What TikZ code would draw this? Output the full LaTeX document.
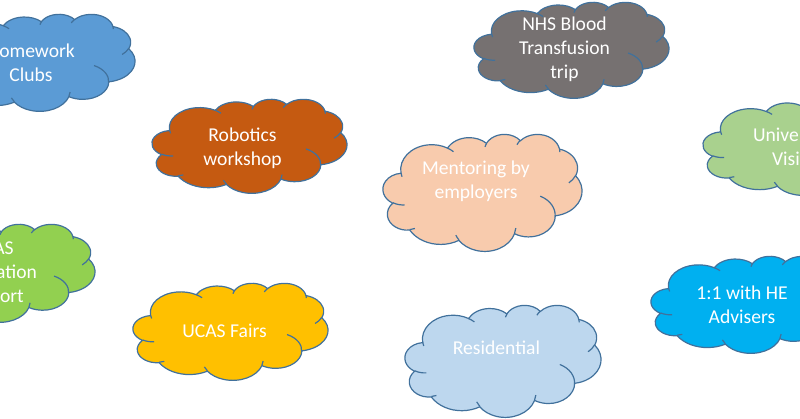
\documentclass[tikz,border=0pt]{standalone}
\usepackage{fontspec}
\setmainfont{Carlito}
\definecolor{cloudline}{HTML}{41719C}
\definecolor{cHome}{HTML}{5B9BD5}
\definecolor{cRobot}{HTML}{C55A11}
\definecolor{cNHS}{HTML}{767171}
\definecolor{cMentor}{HTML}{F8CBAD}
\definecolor{cUniv}{HTML}{A9D18E}
\definecolor{cUcasApp}{HTML}{92D050}
\definecolor{cFairs}{HTML}{FFC000}
\definecolor{cResid}{HTML}{BDD7EE}
\definecolor{cAdvise}{HTML}{00B0F0}
% one arc of the Office cloud: radii (1/100 of 43200 space), start, sweep (visual degrees)
\newcommand\cloudarc[4]{%
  \pgfmathsetmacro\cA{#3}%
  \pgfmathsetmacro\cB{#3+#4}%
  \pgfmathsetmacro\tA{atan2(#1*sin(\cA),#2*cos(\cA))}%
  \pgfmathsetmacro\dA{atan2(sin(\tA-\cA),cos(\tA-\cA))}%
  \pgfmathsetmacro\tB{atan2(#1*sin(\cB),#2*cos(\cB))}%
  \pgfmathsetmacro\dB{atan2(sin(\tB-\cB),cos(\tB-\cB))}%
  \pgfmathsetmacro\sS{\cA+\dA}%
  \pgfmathsetmacro\sE{\cB+\dB}%
  \pgfpatharc{\sS}{\sE}{#1pt and #2pt}%
}
% x0 y0 W H fill  (pixel coordinates, y downwards)
\newcommand\pptcloud[5]{%
  \begin{scope}[shift={(#1pt,-#2pt)}, xscale=#3/432, yscale=-#4/432]
    \pgfsetlinewidth{1.2pt}\pgfsetstrokecolor{cloudline}\pgfsetfillcolor{#5}%
    \pgfpathmoveto{\pgfpoint{39pt}{143.70pt}}%
    \cloudarc{67.53}{91.90}{-190.4875}{123.7805}%
    \cloudarc{53.33}{72.67}{-144.1024}{89.9452}%
    \cloudarc{43.65}{59.45}{-145.8079}{99.7230}%
    \cloudarc{48.57}{65.95}{-130.9861}{117.2417}%
    \cloudarc{53.33}{72.73}{-78.7089}{109.0269}%
    \cloudarc{67.75}{92.20}{-46.2673}{130.2690}%
    \cloudarc{57.85}{78.67}{0.6250}{114.0333}%
    \cloudarc{67.52}{92.15}{22.4516}{115.1726}%
    \cloudarc{77.20}{105.43}{66.2426}{75.7110}%
    \cloudarc{43.60}{59.18}{-274.9421}{146.7356}%
    \cloudarc{43.45}{59.45}{-246.8285}{152.5189}%
    \pgfpathclose
    \pgfusepath{fill,stroke}%
    \pgfpathmoveto{\pgfpoint{46.93pt}{261.77pt}}\cloudarc{43.45}{59.45}{86.7420}{26.4295}%
    \pgfpathmoveto{\pgfpoint{69.28pt}{348.99pt}}\cloudarc{43.60}{59.18}{73.6105}{11.4475}%
    \pgfpathmoveto{\pgfpoint{164.78pt}{390.90pt}}\cloudarc{67.52}{92.15}{137.6242}{14.0811}%
    \pgfpathmoveto{\pgfpoint{288.27pt}{347.51pt}}\cloudarc{67.52}{92.15}{6.4533}{15.9984}%
    \pgfpathmoveto{\pgfpoint{341.29pt}{229.54pt}}\cloudarc{57.85}{78.67}{-70.2924}{76.4377}%
    \pgfpathmoveto{\pgfpoint{417.98pt}{153.54pt}}\cloudarc{53.33}{72.73}{30.3180}{27.7515}%
    \pgfpathmoveto{\pgfpoint{383.24pt}{54.26pt}}\cloudarc{48.57}{65.95}{-13.7443}{14.8589}%
    \pgfpathmoveto{\pgfpoint{290.78pt}{39.52pt}}\cloudarc{48.57}{65.95}{-149.1815}{18.1954}%
    \pgfpathmoveto{\pgfpoint{221.41pt}{47.20pt}}\cloudarc{43.65}{59.45}{-163.4943}{17.6864}%
    \pgfpathmoveto{\pgfpoint{140.00pt}{51.92pt}}\cloudarc{67.53}{91.90}{-66.7070}{12.3194}%
    \pgfpathmoveto{\pgfpoint{41.27pt}{157.89pt}}\cloudarc{67.53}{91.90}{157.6544}{11.8582}%
    \pgfusepath{stroke}%
  \end{scope}}
\tikzset{cloudtext/.style={text=white, align=center, inner sep=0pt,
  font=\fontsize{19.6}{24}\selectfont}}
\begin{document}
\begin{tikzpicture}[x=1pt,y=-1pt]
\useasboundingbox (0,0) rectangle (800,418);
\clip (0,0) rectangle (800,418);
\pptcloud{-60}{14}{195}{97}{cHome}
\pptcloud{152}{99}{195}{94}{cRobot}
\pptcloud{474}{2}{195}{96}{cNHS}
\pptcloud{383}{134}{199}{117}{cMentor}
\pptcloud{703}{100}{195}{95}{cUniv}
\pptcloud{-100}{224}{195}{98}{cUcasApp}
\pptcloud{133}{283}{195}{97}{cFairs}
\pptcloud{405}{305}{196}{112}{cResid}
\pptcloud{651}{256}{195}{97}{cAdvise}
\node[cloudtext] (home) at (31,63) {Homework\\Clubs};
\node[cloudtext] (robot) at (242.5,148.5) {Robotics\\workshop};
\node[cloudtext] (nhs) at (564.5,49) {NHS Blood\\Transfusion\\trip};
\node[cloudtext] (mentor) at (476,181.5) {Mentoring by\\employers};
\node[cloudtext] (univ) at (793,147) {University\\Visits};
\node[cloudtext] (ucasapp) at (-8,274) {UCAS\\Application\\Support};
\node[cloudtext] (fairs) at (224.5,331) {UCAS Fairs};
\node[cloudtext] (resid) at (496.5,348) {Residential};
\node[cloudtext] (advise) at (742,305) {1:1 with HE\\Advisers};
\end{tikzpicture}
\end{document}
